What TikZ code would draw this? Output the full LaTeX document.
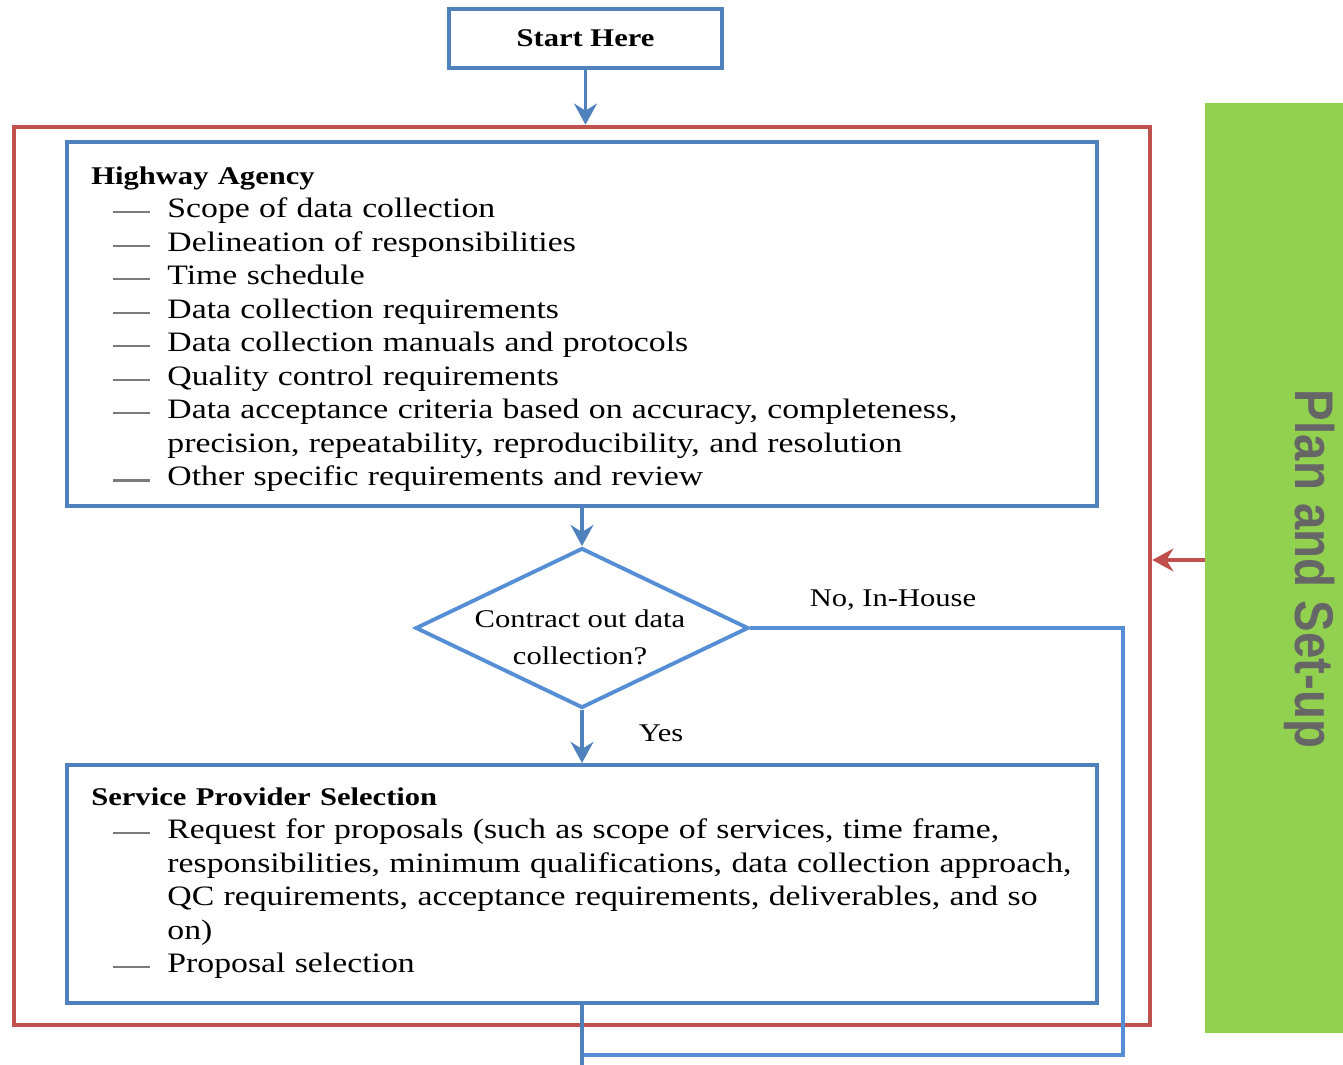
\documentclass[tikz,border=0pt]{standalone}
\usepackage{fontspec}
\setmainfont{Liberation Serif}[FakeStretch=1.2]
\newfontfamily\stagefont{Liberation Sans}[FakeStretch=0.87]
\usepackage{xcolor}
\usetikzlibrary{arrows.meta}
\usetikzlibrary{shapes.geometric}
\usetikzlibrary{positioning}
\definecolor{boxblue}{HTML}{4F81BD}
\definecolor{lineblue}{HTML}{558ED5}
\definecolor{planred}{HTML}{C0504D}
\definecolor{stagegreen}{HTML}{92D050}
\definecolor{stagegray}{HTML}{666666}
\definecolor{dashgray}{HTML}{7A7A7A}
\newcommand{\pxl}[1]{#1*0.02cm}
\newcommand{\bodyfont}{\fontsize{16}{19.07}\selectfont}
\newcommand{\headfont}{\bfseries\fontsize{14.5}{19.07}\selectfont}
\newcommand{\smallfont}{\fontsize{14.5}{21}\selectfont}
\newcommand{\itm}{\makebox[43.3pt][l]{\hspace*{12.5pt}\textcolor{dashgray}{\rule[2.3pt]{21pt}{1.4pt}}}}
\newcommand{\cnt}{\hspace*{43.3pt}}

\begin{document}
\begin{tikzpicture}[x=0.02cm,y=-0.02cm,
  box/.style={draw=boxblue,line width=2.3pt,inner sep=0pt},
  listtext/.style={anchor=base west,inner sep=0pt,text width=560pt,align=left,font=\bodyfont},
  flow/.style={draw=boxblue,line width=2.2pt,-{Stealth[length=12pt,width=13pt,inset=4pt]}},
  noline/.style={draw=lineblue,line width=2.2pt}]
\useasboundingbox (0,0) rectangle (1343,1065);
\node[box,minimum width=\pxl{273},minimum height=\pxl{59},font=\headfont] (start) at (585.5,38.5) {Start Here};
\node[draw=planred,line width=2.6pt,minimum width=\pxl{1136},minimum height=\pxl{898}] (plan) at (582,576) {};
\node[fill=stagegreen,minimum width=\pxl{138},minimum height=\pxl{930},inner sep=0pt] (stage) at (1274,568) {};
\node[rotate=-90,text=stagegray,font=\stagefont\bfseries\fontsize{31}{31}\selectfont] (stagetext) at (1310,569) {Plan and Set-up};
\node[box,minimum width=\pxl{1030},minimum height=\pxl{364}] (ha) at (582,324) {};
\node[listtext] (hatext) at (91,184) {{\headfont Highway Agency}\\
\itm Scope of data collection\\
\itm Delineation of responsibilities\\
\itm Time schedule\\
\itm Data collection requirements\\
\itm Data collection manuals and protocols\\
\itm Quality control requirements\\
\itm Data acceptance criteria based on accuracy, completeness,\\
\cnt precision, repeatability, reproducibility, and resolution\\
\itm Other specific requirements and review};
\node[diamond,draw=lineblue,line width=2.2pt,aspect=2.08,inner sep=0pt,minimum width=\pxl{333},minimum height=\pxl{160}] (dec) at (582,628) {};
\node[align=center,font=\smallfont,inner sep=0pt] (dectext) at (580,637) {Contract out data\\collection?};
\node[box,minimum width=\pxl{1030},minimum height=\pxl{238}] (sp) at (582,884) {};
\node[listtext] (sptext) at (91,805) {{\headfont Service Provider Selection}\\
\itm Request for proposals (such as scope of services, time frame,\\
\cnt responsibilities, minimum qualifications, data collection approach,\\
\cnt QC requirements, acceptance requirements, deliverables, and so\\
\cnt on)\\
\itm Proposal selection};
\node[anchor=base,font=\smallfont,inner sep=0pt] (nolabel) at (893,606.5) {No, In-House};
\node[anchor=base,font=\smallfont,inner sep=0pt] (yeslabel) at (661,741.5) {Yes};
\coordinate (fb) at (1205,560);
\coordinate (nocorner) at (1123,1055);
\coordinate (join) at (582,1055);
\coordinate (out) at (582,1065);
\draw[flow] (start.south) -- (start.south |- plan.north);
\draw[flow] (ha.south) -- (dec.north);
\draw[flow] (dec.south) -- (sp.north);
\draw[draw=planred,line width=2.2pt,-{Stealth[length=12pt,width=13pt,inset=4pt]}] (fb) -- (fb -| plan.east);
\draw[noline] (dec.east) -| (nocorner) -- (join);
\draw[draw=boxblue,line width=2.2pt] (sp.south) -- (out);
\end{tikzpicture}
\end{document}
